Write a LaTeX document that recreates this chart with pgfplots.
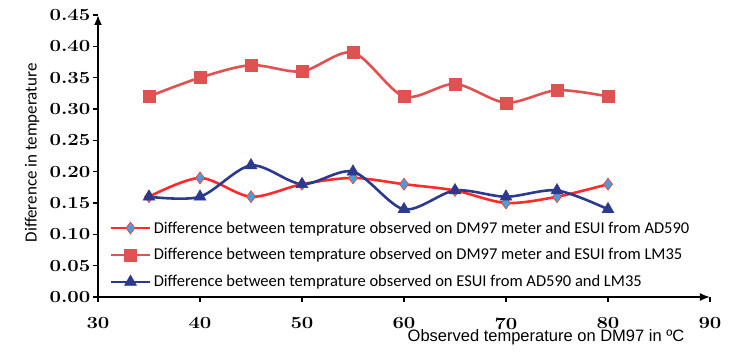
\documentclass[border=0pt]{standalone}
\usepackage{fontspec}
\usepackage{graphicx}
\usepackage{pgfplots}
\pgfplotsset{compat=1.18}
\usetikzlibrary{arrows.meta}
\newfontfamily\carlito{Carlito}
\newfontfamily\arialfont{Liberation Sans}
\definecolor{sOne}{HTML}{FF2B2B}
\definecolor{sOneFill}{HTML}{4F9AD8}
\definecolor{sTwo}{HTML}{E05252}
\definecolor{sThree}{HTML}{2B3A8F}
\newcommand{\tk}[1]{\scalebox{1.2}[1]{\textbf{\fontsize{17}{17}\selectfont #1}}}
\begin{document}
\begin{tikzpicture}
\useasboundingbox (-98pt,-59pt) rectangle (642pt,297pt);
\begin{axis}[
  scale only axis, width=612pt, height=282pt,
  at={(0,0)}, anchor=south west,
  xmin=30, xmax=90, ymin=0, ymax=0.45,
  axis lines=left,
  axis line style={line width=1.8pt, -{Latex[length=10pt,width=8pt]}},
  xtick={30,40,50,60,70,80,90},
  ytick={0,0.05,0.10,0.15,0.20,0.25,0.30,0.35,0.40,0.45},
  tick align=outside, major tick length=5pt,
  tick style={line width=1.6pt, black},
  /pgf/number format/assume math mode=true,
  xticklabel={\tk{\pgfmathprintnumber{\tick}}},
  yticklabel={\tk{\pgfmathprintnumber[fixed,fixed zerofill,precision=2]{\tick}}},
  xticklabel style={yshift=-12pt},
  yticklabel style={xshift=1pt},
  ylabel={Difference in temperature},
  ylabel style={font=\carlito\fontsize{17}{17}\selectfont, at={(axis description cs:-0.1078,0.511)}, anchor=center},
  xlabel={Observed temperature on DM97 in ºC},
  xlabel style={font=\arialfont\fontsize{16.5}{16.5}\selectfont, at={(axis description cs:0.732,-0.1418)}, anchor=center},
  legend cell align=left,
  legend image code/.code={\draw[mark repeat=2,mark phase=2] plot coordinates {(0pt,0pt) (19pt,0pt) (38pt,0pt)};},
  legend style={at={(axis description cs:0.0196,0.149)}, anchor=west, draw=none, fill=none, inner sep=0pt,
    font=\carlito\fontsize{16.5}{16.5}\selectfont, row sep=10pt,
    nodes={inner xsep=3pt, inner ysep=2pt}},
]
\addplot[sOne, line width=2.6pt, smooth, mark=diamond*, mark size=6pt,
  mark options={fill=sOneFill, draw=sOne!80!orange, line width=0.6pt}]
  coordinates {(35,0.16) (40,0.19) (45,0.16) (50,0.18) (55,0.19) (60,0.18) (65,0.17) (70,0.15) (75,0.16) (80,0.18)};
\addlegendentry{Difference between temprature observed on DM97 meter and ESUI from AD590}
\addplot[sTwo, line width=2.6pt, smooth, mark=square*, mark size=6pt, mark options={fill=sTwo, draw=sTwo, line width=0.4pt}]
  coordinates {(35,0.32) (40,0.35) (45,0.37) (50,0.36) (55,0.39) (60,0.32) (65,0.34) (70,0.31) (75,0.33) (80,0.32)};
\addlegendentry{Difference between temprature observed on DM97 meter and ESUI from LM35}
\addplot[sThree, line width=2.6pt, smooth, mark=triangle*, mark size=7pt, mark options={fill=sThree, draw=sThree, line width=0.4pt}]
  coordinates {(35,0.16) (40,0.16) (45,0.21) (50,0.18) (55,0.20) (60,0.14) (65,0.17) (70,0.16) (75,0.17) (80,0.14)};
\addlegendentry{Difference between temprature observed on ESUI from AD590  and LM35}
\end{axis}
\end{tikzpicture}
\end{document}
